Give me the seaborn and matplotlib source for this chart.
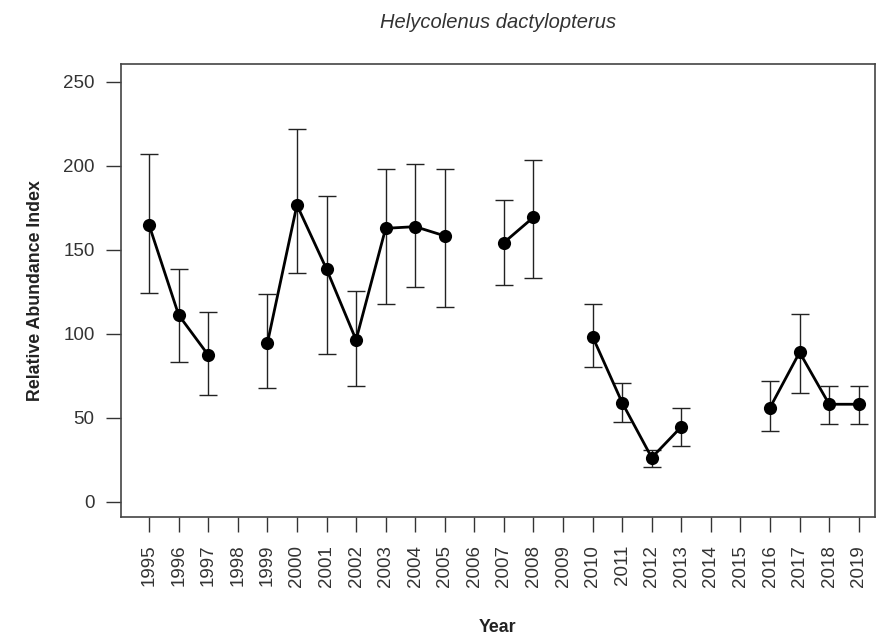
import numpy as np
import pandas as pd
import matplotlib
matplotlib.use("Agg")
import matplotlib.pyplot as plt
import seaborn as sns

years = [1995, 1996, 1997, 1999, 2000, 2001, 2002, 2003, 2004, 2005, 2007, 2008,
         2010, 2011, 2012, 2013, 2016, 2017, 2018, 2019]
index = [164.7, 111.1, 87.3, 94.3, 176.6, 138.5, 96.3, 162.7, 163.7, 158.2, 154.2, 169.3,
         98.2, 58.9, 26.2, 44.6, 56.0, 88.9, 58.0, 58.0]
upper = [206.8, 138.3, 113.1, 123.4, 221.7, 182.2, 125.6, 198.0, 201.0, 198.0, 179.4, 203.4,
         117.7, 70.8, 30.8, 56.0, 71.8, 111.5, 69.0, 69.0]
lower = [124.4, 83.0, 63.5, 67.5, 135.9, 87.9, 69.1, 117.5, 127.8, 115.9, 128.8, 133.0,
         80.4, 47.6, 20.8, 33.3, 42.1, 64.5, 46.1, 46.1]
tick_years = list(range(1995, 2020))
y_ticks = [0, 50, 100, 150, 200, 250]

sns.set_style("ticks")
plt.rcParams['font.family'] = ['Liberation Sans', 'DejaVu Sans']

df = pd.DataFrame({"Year": years, "Index": index, "Upper": upper, "Lower": lower})
# segment id: break line where a year is missing
df["seg"] = (df["Year"].diff().fillna(1) != 1).cumsum()

fig = plt.figure(figsize=(8.77, 6.39), dpi=100)
ax = fig.add_axes([121/877, 1 - 517/639, (875 - 121)/877, (517 - 64)/639])

ax.errorbar(df["Year"], df["Index"],
            yerr=[df["Index"] - df["Lower"], df["Upper"] - df["Index"]],
            fmt="none", ecolor="#222222", elinewidth=1.0, capsize=6.5, capthick=1.0, zorder=2)
sns.lineplot(data=df, x="Year", y="Index", units="seg", estimator=None,
             color="black", linewidth=2.0, ax=ax, zorder=3)
sns.scatterplot(data=df, x="Year", y="Index", color="black", s=90,
                edgecolor="black", linewidth=0, ax=ax, zorder=4)

ax.set_xlim(1994.05, 2019.55)
ax.set_ylim(-9.1, 260.5)
ax.set_xticks(tick_years)
ax.set_xticklabels([str(y) for y in tick_years], rotation=90, fontsize=13.5)
ax.set_yticks(y_ticks)
ax.set_yticklabels([str(v) for v in y_ticks], fontsize=13.5)
ax.tick_params(axis="both", length=11, width=1.0, color="#333333", labelcolor="#333333")
ax.tick_params(axis="y", pad=8)
ax.tick_params(axis="x", pad=9)
for s in ax.spines.values():
    s.set_visible(True)
    s.set_linewidth(1.2)
    s.set_color("#444444")

ax.set_xlabel("Year", fontsize=12.8, fontweight="bold", labelpad=23, color="#222222")
ax.set_ylabel("Relative Abundance Index", fontsize=12.8, fontweight="bold", labelpad=14, color="#222222")
ax.set_title("Helycolenus dactylopterus", fontsize=14.5, fontstyle="italic", pad=26, color="#333333")

fig.savefig("out.png", dpi=100)
